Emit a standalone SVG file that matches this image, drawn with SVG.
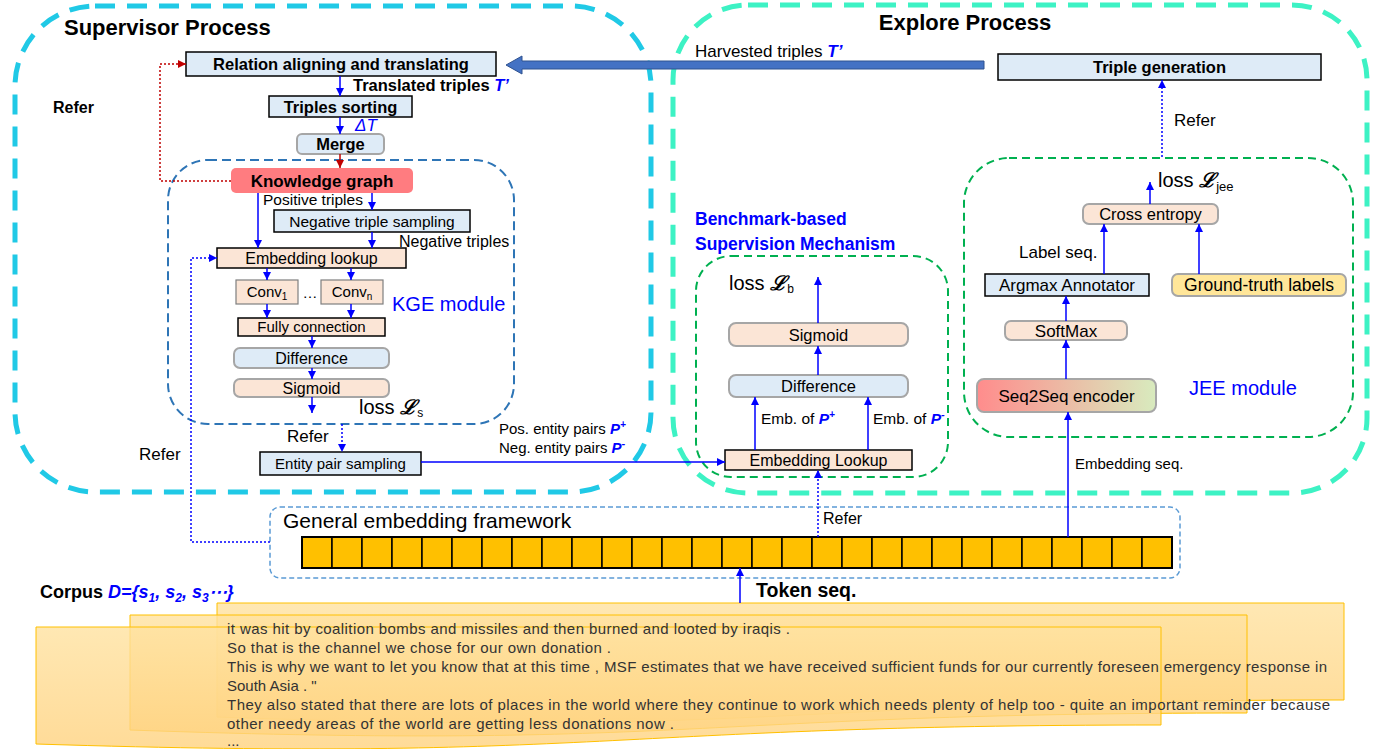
<svg xmlns="http://www.w3.org/2000/svg" width="1380" height="749" viewBox="0 0 1380 749">
<defs>
<marker id="ab" viewBox="0 0 10 10" refX="10" refY="5" markerWidth="8" markerHeight="9" markerUnits="userSpaceOnUse" orient="auto"><path d="M0,0 L10,5 L0,10 Z" fill="#0000FF"/></marker>
<marker id="ar" viewBox="0 0 10 10" refX="10" refY="5" markerWidth="8" markerHeight="9" markerUnits="userSpaceOnUse" orient="auto"><path d="M0,0 L10,5 L0,10 Z" fill="#C00000"/></marker>
<linearGradient id="seq" x1="0" y1="0" x2="1" y2="0"><stop offset="0" stop-color="#FF8C8C"/><stop offset="1" stop-color="#D8EBBE"/></linearGradient>
<linearGradient id="page" x1="0" y1="0" x2="0" y2="1"><stop offset="0" stop-color="#FFE2A0"/><stop offset="1" stop-color="#FFD27E"/></linearGradient>
</defs>
<style>
text{font-family:"Liberation Sans",Arial,sans-serif;fill:#000}
.b{font-weight:bold}
.c{text-anchor:middle}
.blue{fill:#0000FF}
.it{font-style:italic}
.lb{fill:#DEEBF7;stroke:#000;stroke-width:1.5}
.lbr{fill:#DEEBF7;stroke:#A6A6A6;stroke-width:2}
.pc{fill:#FBE5D6;stroke:#000;stroke-width:1.5}
.pcr{fill:#FBE5D6;stroke:#A6A6A6;stroke-width:2}
.arr{stroke:#0000FF;stroke-width:1.5;fill:none;marker-end:url(#ab)}
.dot{stroke:#0000FF;stroke-width:1.5;stroke-dasharray:2 2;fill:none}
.pg{fill:url(#page);fill-opacity:0.8;stroke:#FFC000;stroke-width:1}
.ct{font-size:15px;fill:#333}
.cell{fill:#FFC000;stroke:#000;stroke-width:1.5}
.L{font-family:"DejaVu Serif",serif;font-style:italic;font-weight:bold}
</style>

<!-- containers -->
<g id="supervisor-process">
<rect x="15" y="6" width="636" height="486" rx="80" fill="none" stroke="#20C9E6" stroke-width="5" stroke-dasharray="20 12"/>
<text x="64" y="35" class="b" font-size="22">Supervisor Process</text>
</g>
<g id="explore-process">
<rect x="673" y="5" width="694" height="488" rx="75" fill="none" stroke="#3DF2C4" stroke-width="5" stroke-dasharray="20 12"/>
<text x="965" y="30" class="b c" font-size="22">Explore Process</text>
</g>
<g id="kge-module">
<rect x="168" y="160" width="346" height="264" rx="40" fill="none" stroke="#2E75B6" stroke-width="2" stroke-dasharray="9 5"/>
<text x="392" y="311" class="blue" font-size="20">KGE module</text>
</g>
<g id="benchmark-mechanism">
<rect x="696" y="256" width="252" height="221" rx="35" fill="none" stroke="#00B050" stroke-width="2" stroke-dasharray="8 5"/>
<text x="695" y="225" class="blue b" font-size="17.5">Benchmark-based</text>
<text x="695" y="250" class="blue b" font-size="17.5">Supervision Mechanism</text>
</g>
<g id="jee-module">
<rect x="964" y="158" width="389" height="279" rx="45" fill="none" stroke="#00B050" stroke-width="2" stroke-dasharray="8 5"/>
<text x="1189" y="395" class="blue" font-size="20">JEE module</text>
</g>
<g id="general-embedding-framework">
<rect x="270" y="507" width="910" height="71" rx="10" fill="none" stroke="#5B9BD5" stroke-width="1.5" stroke-dasharray="5 3"/>
<text x="283" y="528" font-size="21">General embedding framework</text>
<g id="token-cells">
<rect x="302" y="537" width="30" height="31" class="cell"/><rect x="332" y="537" width="30" height="31" class="cell"/><rect x="362" y="537" width="30" height="31" class="cell"/><rect x="392" y="537" width="30" height="31" class="cell"/><rect x="422" y="537" width="30" height="31" class="cell"/><rect x="452" y="537" width="30" height="31" class="cell"/><rect x="482" y="537" width="30" height="31" class="cell"/><rect x="512" y="537" width="30" height="31" class="cell"/><rect x="542" y="537" width="30" height="31" class="cell"/><rect x="572" y="537" width="30" height="31" class="cell"/><rect x="602" y="537" width="30" height="31" class="cell"/><rect x="632" y="537" width="30" height="31" class="cell"/><rect x="662" y="537" width="30" height="31" class="cell"/><rect x="692" y="537" width="30" height="31" class="cell"/><rect x="722" y="537" width="30" height="31" class="cell"/><rect x="752" y="537" width="30" height="31" class="cell"/><rect x="782" y="537" width="30" height="31" class="cell"/><rect x="812" y="537" width="30" height="31" class="cell"/><rect x="842" y="537" width="30" height="31" class="cell"/><rect x="872" y="537" width="30" height="31" class="cell"/><rect x="902" y="537" width="30" height="31" class="cell"/><rect x="932" y="537" width="30" height="31" class="cell"/><rect x="962" y="537" width="30" height="31" class="cell"/><rect x="992" y="537" width="30" height="31" class="cell"/><rect x="1022" y="537" width="30" height="31" class="cell"/><rect x="1052" y="537" width="30" height="31" class="cell"/><rect x="1082" y="537" width="30" height="31" class="cell"/><rect x="1112" y="537" width="30" height="31" class="cell"/><rect x="1142" y="537" width="30" height="31" class="cell"/>
<rect x="302" y="537" width="870" height="31" fill="none" stroke="#000" stroke-width="2"/>
</g>
</g>

<!-- nodes -->
<g id="relation-aligning"><rect x="186" y="52" width="310" height="24" class="lb"/><text x="341" y="70" class="b c" font-size="16.5">Relation aligning and translating</text></g>
<g id="triples-sorting"><rect x="269" y="96" width="143" height="21" class="lb"/><text x="340.5" y="112.5" class="b c" font-size="16.5">Triples sorting</text></g>
<g id="merge"><rect x="297" y="134" width="87" height="20" rx="5" class="lbr"/><text x="340.5" y="150" class="b c" font-size="16.5">Merge</text></g>
<g id="knowledge-graph"><rect x="231" y="168" width="182" height="25" rx="5" fill="#FF7C80"/><text x="322" y="186.5" class="b c" font-size="17">Knowledge graph</text></g>
<g id="negative-triple-sampling"><rect x="274" y="210" width="196" height="22" class="lb"/><text x="372" y="226.5" class="c" font-size="15.5">Negative triple sampling</text></g>
<g id="embedding-lookup"><rect x="217" y="248" width="189" height="20" class="pc"/><text x="311.5" y="263.5" class="c" font-size="16">Embedding lookup</text></g>
<g id="conv1"><rect x="236" y="280" width="62" height="24" fill="#FBE5D6" stroke="#7F7F7F" stroke-width="1.2"/><text x="267" y="297" class="c" font-size="15">Conv<tspan font-size="10" dy="3">1</tspan></text></g>
<text x="310" y="298" class="c" font-size="15">…</text>
<g id="convn"><rect x="321" y="280" width="62" height="24" fill="#FBE5D6" stroke="#7F7F7F" stroke-width="1.2"/><text x="352" y="297" class="c" font-size="15">Conv<tspan font-size="10" dy="3">n</tspan></text></g>
<g id="fully-connection"><rect x="238" y="318" width="147" height="18" class="pc"/><text x="311.5" y="332" class="c" font-size="15">Fully connection</text></g>
<g id="difference-kge"><rect x="234" y="348" width="155" height="20" rx="6" class="lbr"/><text x="311.5" y="363.5" class="c" font-size="16">Difference</text></g>
<g id="sigmoid-kge"><rect x="234" y="379" width="155" height="18" rx="6" class="pcr"/><text x="311.5" y="393.5" class="c" font-size="16">Sigmoid</text></g>
<text x="359" y="414" font-size="20">loss <tspan class="L" font-size="20">ℒ</tspan><tspan font-size="12" dy="3">s</tspan></text>
<g id="entity-pair-sampling"><rect x="260" y="452" width="161" height="23" class="lb"/><text x="340.5" y="468.5" class="c" font-size="15">Entity pair sampling</text></g>

<g id="triple-generation"><rect x="998" y="54" width="323" height="26" class="lb"/><text x="1159.5" y="73" class="b c" font-size="16.5">Triple generation</text></g>
<g id="cross-entropy"><rect x="1083" y="204" width="135" height="20" rx="6" class="pcr"/><text x="1150.5" y="220" class="c" font-size="16.5">Cross entropy</text></g>
<g id="argmax-annotator"><rect x="985" y="274" width="164" height="22" class="lb"/><text x="1067" y="291" class="c" font-size="17">Argmax Annotator</text></g>
<g id="ground-truth-labels"><rect x="1172" y="274" width="174" height="22" rx="6" fill="#FFE699" stroke="#A6A6A6" stroke-width="2"/><text x="1259" y="291" class="c" font-size="17.5">Ground-truth labels</text></g>
<g id="softmax"><rect x="1005" y="321" width="122" height="19" rx="6" class="pcr"/><text x="1066" y="336.5" class="c" font-size="17">SoftMax</text></g>
<g id="seq2seq-encoder"><rect x="977" y="379" width="179" height="33" rx="7" fill="url(#seq)" stroke="#A6A6A6" stroke-width="2"/><text x="1066.5" y="401.5" class="c" font-size="17">Seq2Seq encoder</text></g>
<text x="1158" y="187" font-size="20">loss <tspan class="L" font-size="20">ℒ</tspan><tspan font-size="13" dy="4">jee</tspan></text>

<g id="sigmoid-b"><rect x="729" y="323" width="179" height="23" rx="7" class="pcr"/><text x="818.5" y="340.5" class="c" font-size="16.5">Sigmoid</text></g>
<g id="difference-b"><rect x="729" y="375" width="179" height="22" rx="7" class="lbr"/><text x="818.5" y="392" class="c" font-size="16.5">Difference</text></g>
<g id="embedding-lookup-b"><rect x="725" y="450" width="187" height="20" class="pc"/><text x="818.5" y="465.5" class="c" font-size="16">Embedding Lookup</text></g>
<text x="729" y="290" font-size="20">loss <tspan class="L" font-size="20">ℒ</tspan><tspan font-size="12" dy="3">b</tspan></text>

<!-- corpus -->
<g id="corpus">
<text x="40" y="598" class="b" font-size="18">Corpus <tspan class="blue it">D={s<tspan font-size="12" dy="4">1</tspan><tspan dy="-4">, s</tspan><tspan font-size="12" dy="4">2</tspan><tspan dy="-4">, s</tspan><tspan font-size="12" dy="4">3</tspan><tspan dy="-4">⋯}</tspan></tspan></text>
<path d="M217,603 H1344 V700 C780,700 780,737 217,717 Z" class="pg"/>
<path d="M130,615 H1247 V713 C690,713 690,750 130,730 Z" class="pg"/>
<path d="M36,627 H1161 V725 C600,725 600,762 36,744 Z" class="pg"/>
<text x="227" y="634" class="ct" textLength="563" lengthAdjust="spacing">it was hit by coalition bombs and missiles and then burned and looted by iraqis .</text>
<text x="227" y="653" class="ct" textLength="384" lengthAdjust="spacing">So that is the channel we chose for our own donation .</text>
<text x="227" y="672" class="ct" textLength="1100" lengthAdjust="spacing">This is why we want to let you know that at this time , MSF estimates that we have received sufficient funds for our currently foreseen emergency response in</text>
<text x="227" y="691" class="ct">South Asia . "</text>
<text x="227" y="710" class="ct" textLength="1103" lengthAdjust="spacing">They also stated that there are lots of places in the world where they continue to work which needs plenty of help too - quite an important reminder because</text>
<text x="227" y="729" class="ct" textLength="447" lengthAdjust="spacing">other needy areas of the world are getting less donations now .</text>
<text x="227" y="746" class="ct">...</text>
</g>

<!-- connectors -->
<g id="connectors">
<path d="M984,61 H522 V56 L506,65 L522,74 V69 H984 Z" fill="#4472C4" stroke="#2F528F" stroke-width="1"/>
<text x="695" y="57" font-size="17">Harvested triples <tspan class="blue it b">T’</tspan></text>

<line x1="340" y1="76" x2="340" y2="96" class="arr"/>
<text x="353" y="91" class="b" font-size="16.5">Translated triples <tspan class="blue it">T’</tspan></text>
<line x1="340" y1="117" x2="340" y2="134" class="arr"/>
<text x="355" y="131" class="blue it" font-size="17">ΔT</text>
<line x1="340" y1="154" x2="340" y2="168" stroke="#C00000" stroke-width="1.5" marker-end="url(#ar)"/>
<path d="M231,181 H160 V64 H186" fill="none" stroke="#C00000" stroke-width="1.5" stroke-dasharray="2 2" marker-end="url(#ar)"/>
<text x="53" y="113" class="b" font-size="16">Refer</text>

<line x1="258" y1="193" x2="258" y2="248" class="arr"/>
<text x="263" y="205" font-size="15.5">Positive triples</text>
<line x1="372" y1="193" x2="372" y2="210" class="arr"/>
<line x1="372" y1="232" x2="372" y2="248" class="arr"/>
<text x="399" y="247" font-size="16">Negative triples</text>
<line x1="267" y1="268" x2="267" y2="280" class="arr"/>
<line x1="351" y1="268" x2="351" y2="280" class="arr"/>
<line x1="267" y1="304" x2="267" y2="318" class="arr"/>
<line x1="351" y1="304" x2="351" y2="318" class="arr"/>
<line x1="312" y1="336" x2="312" y2="348" class="arr"/>
<line x1="312" y1="368" x2="312" y2="379" class="arr"/>
<line x1="312" y1="397" x2="312" y2="413" class="arr"/>

<path d="M270,542 H191 V258 H217" class="dot" marker-end="url(#ab)"/>
<text x="139" y="460" font-size="17">Refer</text>
<line x1="342" y1="424" x2="342" y2="452" class="dot" marker-end="url(#ab)"/>
<text x="287" y="442" font-size="17">Refer</text>

<line x1="421" y1="462" x2="725" y2="462" class="arr"/>
<text x="499" y="434" font-size="15">Pos. entity pairs <tspan class="blue it b">P<tspan font-size="10" dy="-6">+</tspan></tspan></text>
<text x="499" y="453" font-size="15">Neg. entity pairs <tspan class="blue it b">P<tspan font-size="11" dy="-6">-</tspan></tspan></text>

<line x1="755" y1="450" x2="755" y2="397" class="arr"/>
<line x1="868" y1="450" x2="868" y2="397" class="arr"/>
<text x="761" y="424" font-size="15.5">Emb. of <tspan class="blue it b">P<tspan font-size="10" dy="-6">+</tspan></tspan></text>
<text x="873" y="424" font-size="15.5">Emb. of <tspan class="blue it b">P<tspan font-size="11" dy="-6">-</tspan></tspan></text>
<line x1="818" y1="375" x2="818" y2="346" class="arr"/>
<line x1="818" y1="323" x2="818" y2="277" class="arr"/>
<line x1="818" y1="537" x2="818" y2="470" class="dot" marker-end="url(#ab)"/>
<text x="823" y="524" font-size="16">Refer</text>

<line x1="1068" y1="537" x2="1068" y2="412" class="arr"/>
<text x="1075" y="469" font-size="15">Embedding seq.</text>
<line x1="1066" y1="379" x2="1066" y2="340" class="arr"/>
<line x1="1066" y1="321" x2="1066" y2="296" class="arr"/>
<line x1="1104" y1="274" x2="1104" y2="224" class="arr"/>
<line x1="1199" y1="274" x2="1199" y2="224" class="arr"/>
<text x="1019" y="258" font-size="17">Label seq.</text>
<line x1="1150" y1="204" x2="1150" y2="182" class="arr"/>
<line x1="1162" y1="157" x2="1162" y2="80" class="dot" marker-end="url(#ab)"/>
<text x="1174" y="126" font-size="17">Refer</text>

<line x1="740" y1="603" x2="740" y2="568" class="arr"/>
<text x="756" y="597" class="b" font-size="19.5">Token seq.</text>
</g>
</svg>
